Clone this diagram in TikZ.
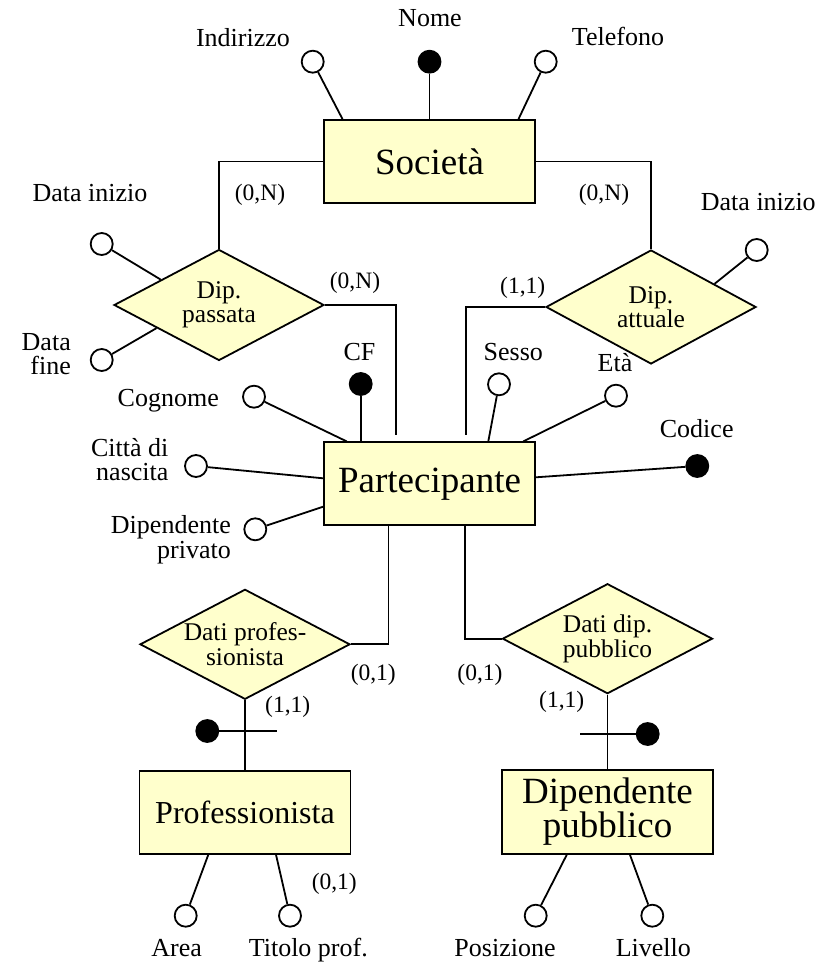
\documentclass[tikz,border=0pt]{standalone}
\usepackage{fontspec}
\setmainfont{Liberation Serif}
\usetikzlibrary{shapes.geometric,calc}
\definecolor{erfill}{HTML}{FFFFCC}

\begin{document}
\begin{tikzpicture}[x=1pt,y=-1pt,line width=1.8pt,
  entity/.style={draw,fill=erfill,inner sep=0pt,minimum width=211pt,minimum height=83pt,
    font=\fontsize{37}{34}\selectfont,align=center},
  relation/.style={draw,fill=erfill,diamond,aspect=2,inner xsep=-8pt,inner ysep=0pt,
    minimum width=210pt,minimum height=111pt,font=\fontsize{25.5}{24.5}\selectfont,align=center},
  attr/.style={circle,draw,fill=white,minimum size=22pt,inner sep=0pt},
  keyattr/.style={attr,fill=black},
  lbl/.style={inner sep=0pt,font=\fontsize{26}{24.5}\selectfont,align=center},
  card/.style={inner sep=0pt,font=\fontsize{23.5}{24}\selectfont,anchor=base},
]
\useasboundingbox (0,0) rectangle (828,963);

% ---------- entities ----------
\node[entity] (soc) at (429.5,161.5) {Società};
\node[entity] (par) at (429.5,483.8) {Partecipante};
\node[entity,font=\fontsize{32}{32}\selectfont] (pro) at (245,812.3) {Professionista};
\node[entity,minimum height=84pt] (dip) at (607.5,812) {Dipendente\\pubblico};

% ---------- relationships ----------
\node[relation] (dpp) at (219,305) {Dip.\\passata};
\node[relation,minimum height=114pt] (dpa) at (651,307) {Dip.\\attuale};
\node[relation,minimum height=110pt] (dpr) at (245,644.3) {Dati profes-\\sionista};
\node[relation,minimum height=110pt] (ddp) at (607.5,638.7) {Dati dip.\\pubblico};

% ---------- attributes of Società ----------
\node[attr] (ind) at (312.7,61.7) {};
\node[keyattr] (nome) at (429.5,61.7) {};
\node[attr] (tel) at (545.7,61.7) {};
\node[lbl,anchor=base] (tind) at (243,46.7) {Indirizzo};
\node[lbl,anchor=base] (tnome) at (430,26.7) {Nome};
\node[lbl,anchor=base] (ttel) at (618,45.7) {Telefono};
\draw (ind) -- ([xshift=-87pt]soc.north);
\draw (nome) -- (soc.north);
\draw (tel) -- ([xshift=89pt]soc.north);

% ---------- attributes of the relationships ----------
\node[attr] (di1) at (101.7,244) {};
\node[attr] (df1) at (101.7,360) {};
\node[attr] (di2) at (756.7,250) {};
\node[lbl,anchor=base] (tdi1) at (90,201.7) {Data inizio};
\node[lbl,anchor=east,align=right] (tdf1) at (71.7,354) {Data\\fine};
\node[lbl,anchor=base] (tdi2) at (758.3,210) {Data inizio};
\draw (di1) -- ($(dpp.north)!0.55!(dpp.west)$);
\draw (df1) -- ($(dpp.west)!0.41!(dpp.south)$);
\draw (di2) -- ($(dpa.north)!0.6!(dpa.east)$);

% ---------- attributes of Partecipante ----------
\node[keyattr] (cf) at (360.7,384) {};
\node[attr] (cog) at (254,396.7) {};
\node[attr] (cit) at (196,466) {};
\node[attr] (dpv) at (255.3,529.3) {};
\node[attr] (ses) at (499,384.3) {};
\node[attr] (eta) at (616,395.7) {};
\node[keyattr] (cod) at (697.3,466) {};
\node[lbl,anchor=base] (tcf) at (359.5,360.7) {CF};
\node[lbl,anchor=base] (tcog) at (168.3,406.7) {Cognome};
\node[lbl,anchor=east,align=right] (tcit) at (169.3,459.5) {Città di\\nascita};
\node[lbl,anchor=east,align=right] (tdpv) at (231.7,539.8) {Dipendente\\privato};
\node[lbl,anchor=base] (tses) at (513.3,360.7) {Sesso};
\node[lbl,anchor=base] (teta) at (615,371.7) {Età};
\node[lbl,anchor=base] (tcod) at (696.7,437.3) {Codice};
\draw (cf) -- ([xshift=-68.8pt]par.north);
\draw (cog) -- ([xshift=-82.8pt]par.north);
\draw (cit) -- ([yshift=5.5pt]par.west);
\draw (dpv) -- ([yshift=-22.9pt]par.west);
\draw (ses) -- ([xshift=58.8pt]par.north);
\draw (eta) -- ([xshift=93.8pt]par.north);
\draw (cod) -- ([yshift=6.5pt]par.east);

% ---------- relationship links ----------
\coordinate (ppend) at ([xshift=-33.5pt,yshift=6.7pt]par.north);
\coordinate (paend) at ([xshift=36.5pt,yshift=6.7pt]par.north);
\draw (soc.west) -| (dpp.north);
\draw (soc.east) -| (dpa.north);
\draw (dpp.east) -| (ppend);
\draw (dpa.west) -| (paend);
\draw ([xshift=-41pt]par.south) |- (dpr.east);
\draw ([xshift=35.5pt]par.south) |- (ddp.west);
\draw (dpr.south) -- (pro.north);
\draw (ddp.south) -- (dip.north);

% ---------- external identifiers ----------
\node[keyattr] (idpro) at (207.3,731) {};
\coordinate (cbpro) at (277,731);
\draw (idpro) -- (cbpro);
\node[keyattr] (iddip) at (647.7,734) {};
\coordinate (cbdip) at (580,734);
\draw (cbdip) -- (iddip);

% ---------- cardinalities ----------
\node[card] (c1) at (260,200) {(0,N)};
\node[card] (c2) at (604,200) {(0,N)};
\node[card] (c3) at (355,288.3) {(0,N)};
\node[card] (c4) at (522.7,293.3) {(1,1)};
\node[card] (c5) at (373.3,680.7) {(0,1)};
\node[card] (c6) at (287.7,712.7) {(1,1)};
\node[card] (c7) at (480,680) {(0,1)};
\node[card] (c8) at (561.7,707.3) {(1,1)};
\node[card] (c9) at (334.3,889.3) {(0,1)};

% ---------- attributes of the sub-entities ----------
\node[attr] (are) at (185.7,915.7) {};
\node[attr] (tit) at (290,915.7) {};
\node[attr] (pos) at (535.7,915.7) {};
\node[attr] (liv) at (652.3,915.7) {};
\node[lbl,anchor=base] (tare) at (176.7,956.7) {Area};
\node[lbl,anchor=base] (ttit) at (308.3,956.7) {Titolo prof.};
\node[lbl,anchor=base] (tpos) at (505,956.7) {Posizione};
\node[lbl,anchor=base] (tliv) at (653.3,956.7) {Livello};
\draw (are) -- ([xshift=-36.7pt]pro.south);
\draw (tit) -- ([xshift=31pt]pro.south);
\draw (pos) -- ([xshift=-40.8pt]dip.south);
\draw (liv) -- ([xshift=22.5pt]dip.south);
\end{tikzpicture}
\end{document}
